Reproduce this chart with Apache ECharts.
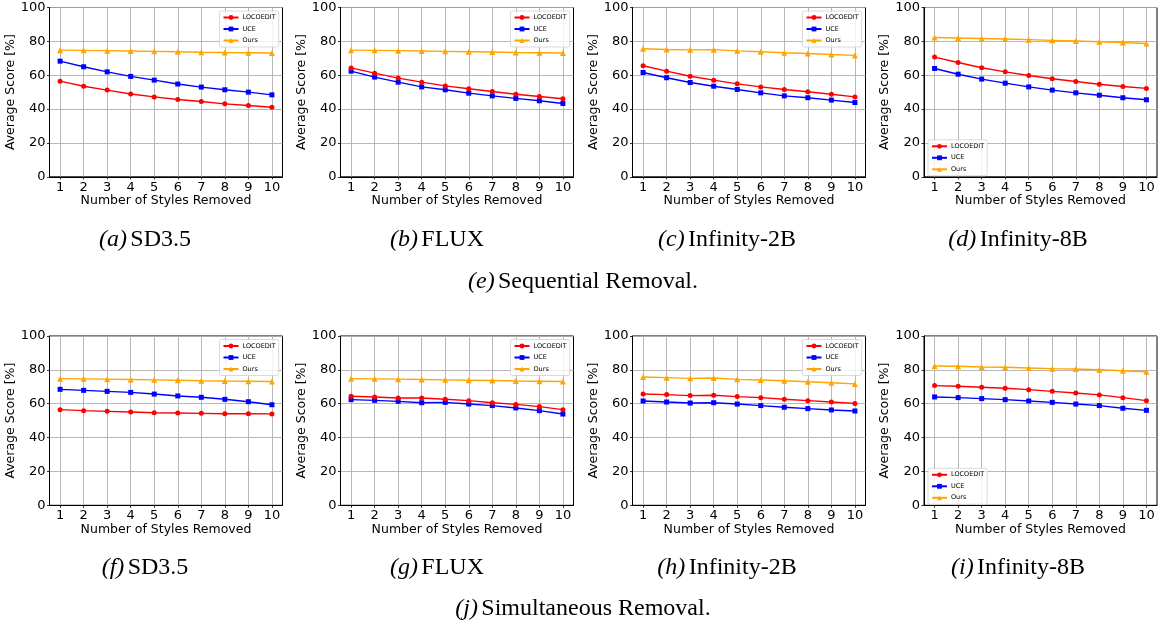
<!DOCTYPE html>
<html>
<head>
<meta charset="utf-8">
<script src="https://cdn.jsdelivr.net/npm/echarts@6/dist/echarts.min.js"></script>
<style>
html,body{margin:0;padding:0;background:#fff;}
#chart{width:1158px;height:624px;}
</style>
</head>
<body>
<div id="chart"></div>
<script>
// ---- data ----
const steps = [1, 2, 3, 4, 5, 6, 7, 8, 9, 10];
const yTicks = [0, 20, 40, 60, 80, 100];
const seriesNames = ['LOCOEDIT', 'UCE', 'Ours'];

// Sequential removal
const seqSD35_loco   = [56.5, 53.5, 51.2, 48.9, 47.2, 45.7, 44.5, 43.1, 42.1, 41.1];
const seqSD35_uce    = [68.3, 65.0, 62.0, 59.3, 57.1, 54.8, 53.0, 51.4, 50.0, 48.4];
const seqSD35_ours   = [74.8, 74.7, 74.5, 74.3, 74.1, 73.9, 73.6, 73.4, 73.3, 73.1];

const seqFLUX_loco   = [64.3, 61.2, 58.3, 55.9, 53.7, 52.0, 50.4, 48.8, 47.4, 46.1];
const seqFLUX_uce    = [62.4, 58.9, 55.9, 53.1, 51.4, 49.4, 47.8, 46.3, 44.9, 43.3];
const seqFLUX_ours   = [74.8, 74.7, 74.5, 74.3, 74.1, 73.9, 73.7, 73.4, 73.3, 73.1];

const seqInf2B_loco  = [65.6, 62.4, 59.4, 57.1, 54.9, 53.1, 51.6, 50.2, 48.8, 47.2];
const seqInf2B_uce   = [61.6, 58.5, 55.7, 53.5, 51.6, 49.6, 47.8, 46.7, 45.3, 43.9];
const seqInf2B_ours  = [75.6, 75.2, 75.0, 75.1, 74.4, 73.9, 73.3, 72.8, 72.2, 71.7];

const seqInf8B_loco  = [70.7, 67.5, 64.4, 62.0, 59.8, 57.9, 56.3, 54.7, 53.3, 52.2];
const seqInf8B_uce   = [64.0, 60.6, 57.7, 55.3, 53.1, 51.2, 49.6, 48.2, 46.7, 45.5];
const seqInf8B_ours  = [82.3, 82.0, 81.7, 81.4, 81.0, 80.6, 80.2, 79.8, 79.3, 78.7];

// Simultaneous removal
const simSD35_loco   = [56.5, 55.9, 55.5, 55.1, 54.7, 54.5, 54.3, 54.1, 54.1, 54.0];
const simSD35_uce    = [68.5, 67.9, 67.3, 66.7, 65.7, 64.6, 63.8, 62.6, 61.2, 59.4];
const simSD35_ours   = [74.8, 74.7, 74.5, 74.3, 74.1, 73.9, 73.6, 73.4, 73.3, 73.1];

const simFLUX_loco   = [64.4, 64.0, 63.4, 63.4, 62.6, 61.8, 60.6, 59.6, 58.3, 56.5];
const simFLUX_uce    = [62.4, 62.0, 61.4, 60.6, 60.8, 59.8, 58.9, 57.5, 55.9, 53.9];
const simFLUX_ours   = [74.8, 74.7, 74.5, 74.3, 74.1, 73.9, 73.7, 73.4, 73.3, 73.1];

const simInf2B_loco  = [65.7, 65.4, 64.8, 65.0, 64.2, 63.6, 62.6, 61.8, 61.0, 60.2];
const simInf2B_uce   = [61.6, 61.0, 60.4, 60.6, 59.8, 58.9, 57.9, 57.1, 56.3, 55.7];
const simInf2B_ours  = [75.8, 75.4, 75.0, 75.2, 74.4, 74.0, 73.6, 73.0, 72.4, 71.7];

const simInf8B_loco  = [70.7, 70.3, 69.7, 69.1, 68.3, 67.3, 66.3, 65.2, 63.6, 61.8];
const simInf8B_uce   = [64.0, 63.6, 63.0, 62.4, 61.6, 60.8, 59.8, 58.9, 57.3, 56.1];
const simInf8B_ours  = [82.3, 82.1, 81.7, 81.5, 81.1, 80.7, 80.5, 80.1, 79.5, 78.9];

const subCaptions = [
  ['(a)', 'SD3.5'], ['(b)', 'FLUX'], ['(c)', 'Infinity-2B'], ['(d)', 'Infinity-8B'],
  ['(f)', 'SD3.5'], ['(g)', 'FLUX'], ['(h)', 'Infinity-2B'], ['(i)', 'Infinity-8B']
];
const groupCaptions = [['(e)', 'Sequential Removal.'], ['(j)', 'Simultaneous Removal.']];

const xName = 'Number of Styles Removed';
const yName = 'Average Score [%]';

// ---- build ----
const panelData = [
  [seqSD35_loco, seqSD35_uce, seqSD35_ours],
  [seqFLUX_loco, seqFLUX_uce, seqFLUX_ours],
  [seqInf2B_loco, seqInf2B_uce, seqInf2B_ours],
  [seqInf8B_loco, seqInf8B_uce, seqInf8B_ours],
  [simSD35_loco, simSD35_uce, simSD35_ours],
  [simFLUX_loco, simFLUX_uce, simFLUX_ours],
  [simInf2B_loco, simInf2B_uce, simInf2B_ours],
  [simInf8B_loco, simInf8B_uce, simInf8B_ours]
];
const colors = ['#ff0000', '#0000ff', '#ffa500'];
const symbols = ['circle', 'rect', 'triangle'];
const lefts = [49.5, 340.5, 632.5, 924];
const tops = [7.5, 336];
const gw = 233, gh = 169.3;
const legendBottomLeft = [false, false, false, true, false, false, false, true];
const FONT = 'DejaVu Sans';

const grids = [], xAxes = [], yAxes = [], series = [], legends = [], graphics = [];
for (let p = 0; p < 8; p++) {
  const row = Math.floor(p / 4), col = p % 4;
  const L = lefts[col], T = tops[row];
  grids.push({left: L, top: T, width: gw, height: gh, show: true, borderColor: '#000', borderWidth: 1, backgroundColor: 'transparent'});
  xAxes.push({
    type: 'value', gridIndex: p, min: 0.55, max: 10.45,
    name: xName, nameLocation: 'middle', nameGap: 16,
    nameTextStyle: {fontFamily: FONT, fontSize: 12.5, color: '#000'},
    axisLine: {show: true, onZero: false, lineStyle: {color: '#000', width: 1}},
    axisTick: {show: true, length: 2.5, customValues: steps, lineStyle: {color: '#000', width: 0.8}},
    axisLabel: {show: true, customValues: steps, margin: 4, fontFamily: FONT, fontSize: 13, color: '#000'},
    splitLine: {show: true, lineStyle: {color: '#b0b0b0', width: 0.9}}
  });
  yAxes.push({
    type: 'value', gridIndex: p, min: yTicks[0], max: yTicks[yTicks.length - 1], interval: 20,
    name: yName, nameLocation: 'middle', nameGap: 25.5,
    nameTextStyle: {fontFamily: FONT, fontSize: 12.5, color: '#000'},
    axisLine: {show: true, lineStyle: {color: '#000', width: 1}},
    axisTick: {show: true, length: 2.5, lineStyle: {color: '#000', width: 0.8}},
    axisLabel: {show: true, margin: 4, fontFamily: FONT, fontSize: 13, color: '#000'},
    splitLine: {show: true, lineStyle: {color: '#b0b0b0', width: 0.9}}
  });
  for (let s = 0; s < 3; s++) {
    series.push({
      type: 'line', name: seriesNames[s], xAxisIndex: p, yAxisIndex: p,
      data: steps.map((x, i) => [x, panelData[p][s][i]]),
      symbol: symbols[s], symbolSize: s === 2 ? 6 : 5, showSymbol: true,
      itemStyle: {color: colors[s]},
      lineStyle: {color: colors[s], width: 1.4},
      animation: false, silent: true, z: 3 + (2 - s)
    });
  }
  const lg = {
    orient: 'vertical', data: seriesNames,
    itemWidth: 15, itemHeight: 6, itemGap: 4.5,
    textStyle: {fontFamily: FONT, fontSize: 6.5, color: '#000', padding: [0, 0, 0, -1]},
    backgroundColor: 'rgba(255,255,255,0.8)', borderColor: '#d0d0d0', borderWidth: 0.8, borderRadius: 2,
    padding: [3, 3, 3, 3], selectedMode: false
  };
  if (legendBottomLeft[p]) {
    lg.left = L + 4; lg.top = T + gh - 37;
  } else {
    lg.left = L + gw - 63; lg.top = T + 3.5;
  }
  legends.push(lg);
}

const capCenters = [145, 437, 727, 1018];
const capY = [240, 568];
const groupY = [282, 609];
const rich = {i: {fontStyle: 'italic', fontFamily: 'Liberation Serif', fontSize: 24, color: '#000'},
              n: {fontFamily: 'Liberation Serif', fontSize: 24, color: '#000'}};
for (let p = 0; p < 8; p++) {
  const row = Math.floor(p / 4), col = p % 4;
  graphics.push({type: 'text', x: capCenters[col], y: capY[row],
    style: {text: '{i|' + subCaptions[p][0] + '} {n|' + subCaptions[p][1] + '}', rich: rich, align: 'center', verticalAlign: 'middle'}});
}
for (let r = 0; r < 2; r++) {
  graphics.push({type: 'text', x: 583, y: groupY[r],
    style: {text: '{i|' + groupCaptions[r][0] + '} {n|' + groupCaptions[r][1] + '}', rich: rich, align: 'center', verticalAlign: 'middle'}});
}

const chart = echarts.init(document.getElementById('chart'), null, {renderer: 'canvas'});
chart.setOption({
  animation: false,
  backgroundColor: '#fff',
  grid: grids, xAxis: xAxes, yAxis: yAxes, series: series, legend: legends,
  graphic: graphics
});
</script>
</body>
</html>
